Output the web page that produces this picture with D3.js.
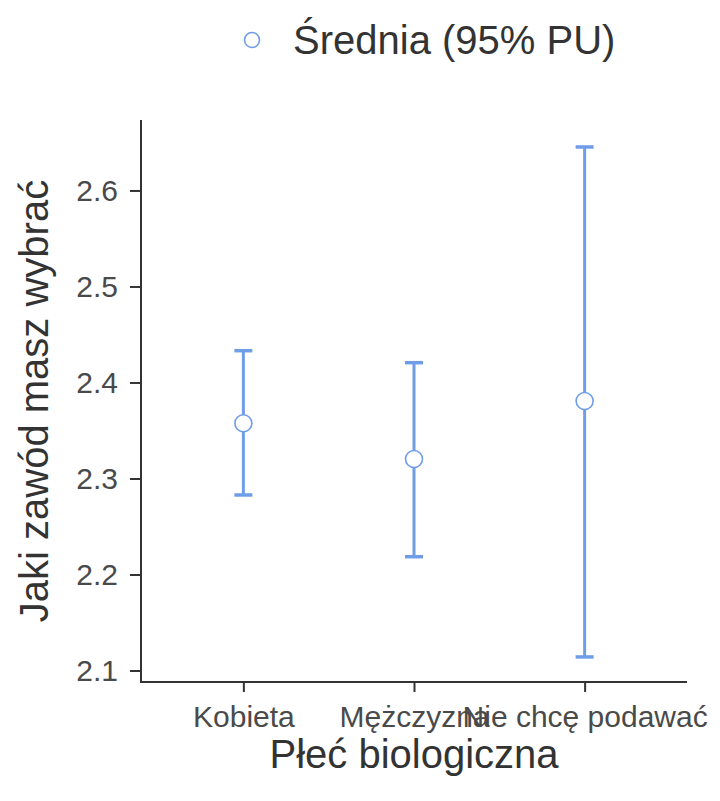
<!DOCTYPE html>
<html><head><meta charset="utf-8">
<script src="https://cdn.jsdelivr.net/npm/d3@7"></script>
<style>body{margin:0;background:#fff}svg{display:block}</style>
</head><body><svg id="c" width="720" height="801"></svg>
<script>
const categories = ["Kobieta", "Mężczyzna", "Nie chcę podawać"];
const means = [2.3575, 2.3203, 2.3807];
const lower = [2.2828, 2.2185, 2.1141];
const upper = [2.4331, 2.4206, 2.6453];
const yTicks = [2.1, 2.2, 2.3, 2.4, 2.5, 2.6];
const legendLabel = "Średnia (95% PU)";
const xTitle = "Płeć biologiczna";
const yTitle = "Jaki zawód masz wybrać";

(function () {
const svg = d3.select("#c");
const font = "'Liberation Sans', Arial, sans-serif";
const blue = "#6f9de8";
const pL = 141, pR = 687, pT = 120, pB = 682;

const y = d3.scaleLinear().domain([2.088, 2.6734]).range([pB, pT]);
const x = d3.scalePoint().domain(categories).range([pL, pR]).padding(0.6);

const yAxis = svg.append("g").attr("transform", `translate(${pL},0)`)
  .call(d3.axisLeft(y).tickValues(yTicks).tickFormat(d3.format(".1f")).tickSize(11).tickSizeOuter(0).tickPadding(12));
const xAxis = svg.append("g").attr("transform", `translate(0,${pB})`)
  .call(d3.axisBottom(x).tickSize(10).tickSizeOuter(0).tickPadding(14));
[yAxis, xAxis].forEach(g => {
  g.select(".domain").attr("stroke", "#333").attr("stroke-width", 2);
  g.selectAll(".tick line").attr("stroke", "#333").attr("stroke-width", 2);
  g.selectAll(".tick text").attr("fill", "#4a4a4a").style("font-family", font);
});
yAxis.selectAll(".tick text").style("font-size", "30px");
xAxis.selectAll(".tick text").style("font-size", "30px");
yAxis.select(".domain").attr("d", `M0,${pT}V${pB}`);
xAxis.select(".domain").attr("d", `M${pL-1},0H${pR}`);

const g = svg.append("g");
categories.forEach((c, i) => {
  const cx = x(c);
  g.append("line").attr("x1", cx).attr("x2", cx).attr("y1", y(lower[i])).attr("y2", y(upper[i]))
    .attr("stroke", blue).attr("stroke-width", 3);
  [lower[i], upper[i]].forEach(v => {
    g.append("line").attr("x1", cx - 9).attr("x2", cx + 9).attr("y1", y(v)).attr("y2", y(v))
      .attr("stroke", blue).attr("stroke-width", 3.5);
  });
  g.append("circle").attr("cx", cx).attr("cy", y(means[i])).attr("r", 8.5)
    .attr("fill", "#fff").attr("stroke", blue).attr("stroke-width", 1.6);
});

svg.append("text").attr("x", (pL + pR) / 2).attr("y", 768).attr("text-anchor", "middle")
  .attr("fill", "#333").style("font-family", font).style("font-size", "40px").text(xTitle);
svg.append("text").attr("transform", `translate(48,${(pT + pB) / 2}) rotate(-90)`).attr("text-anchor", "middle")
  .attr("fill", "#333").style("font-family", font).style("font-size", "40px").text(yTitle);

svg.append("circle").attr("cx", 252).attr("cy", 40).attr("r", 7.5).attr("fill", "#fff")
  .attr("stroke", blue).attr("stroke-width", 1.6);
svg.append("text").attr("x", 293).attr("y", 54).attr("fill", "#333")
  .style("font-family", font).style("font-size", "40px").text(legendLabel);
})();
</script></body></html>
